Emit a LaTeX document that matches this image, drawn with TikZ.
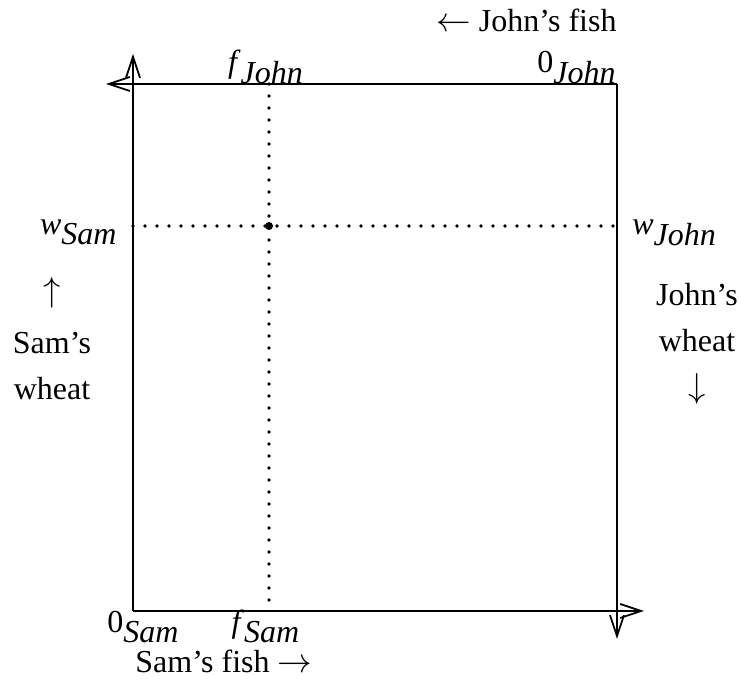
\documentclass[tikz,border=0pt]{standalone}
\usepackage{fontspec}
\setmainfont{Liberation Serif}
\usetikzlibrary{arrows.meta}

\begin{document}
\begin{tikzpicture}[
    x=0.5pt, y=-0.5pt,
    every node/.style={font=\fontsize{16}{23}\selectfont, inner sep=0pt},
    axis/.style={line width=0.9pt, -{Straight Barb[length=10.5pt, width=7pt]}},
    guide/.style={line width=1.8pt, line cap=round, dash pattern=on 0pt off 6pt},
    alloc/.style={circle, fill, inner sep=0pt, minimum size=4pt}
  ]
    \useasboundingbox (0,0) rectangle (741,679);

    % Origins and axis ends
    \coordinate (oSam) at (133,611);
    \coordinate (oJohn) at (617,84);
    \coordinate (samWheatEnd) at (133,54);
    \coordinate (samFishEnd) at (644,611);
    \coordinate (johnFishEnd) at (106,84);
    \coordinate (johnWheatEnd) at (617,639);

    % Guide ends on the box
    \coordinate (fTop) at (269,84);
    \coordinate (fBot) at (269,611);
    \coordinate (wLeft) at (133,226);
    \coordinate (wRight) at (617,226);

    % Allocation point
    \node[alloc] (point) at (269,226) {};

    % Tick labels
    \node[anchor=base east] (zeroJohn) at (617,73) {0$_{\textit{John}}$};
    \node[anchor=base] (fJohn) at (266,73) {\textit{f}$_{\textit{John}}$};
    \node[anchor=base east] (wSam) at (118,235) {\textit{w}$_{\textit{Sam}}$};
    \node[anchor=base west] (wJohn) at (632,235) {\textit{w}$_{\textit{John}}$};
    \node[anchor=base west] (zeroSam) at (107,633) {0$_{\textit{Sam}}$};
    \node[anchor=base] (fSam) at (266,633) {\textit{f}$_{\textit{Sam}}$};

    % Goods labels
    \node[anchor=base east] (johnFish) at (617,32) {$\leftarrow$ John's fish};
    \node[anchor=base west] (samFish) at (135,673) {Sam's fish $\rightarrow$};
    \node[align=center, anchor=base] (samWheat) at (52,400) {$\uparrow$\\[3pt]Sam's\\wheat};
    \node[align=center, anchor=base] (johnWheat) at (697,398) {John's\\wheat\\$\downarrow$};

    % Axes
    \draw[axis] (oSam) -- (samWheatEnd);
    \draw[axis] (oSam) -- (samFishEnd);
    \draw[axis] (oJohn) -- (johnFishEnd);
    \draw[axis] (oJohn) -- (johnWheatEnd);

    % Dotted guides
    \draw[guide] (fTop) -- (fBot);
    \draw[guide] (wLeft) -- (wRight);

  \end{tikzpicture}
\end{document}
